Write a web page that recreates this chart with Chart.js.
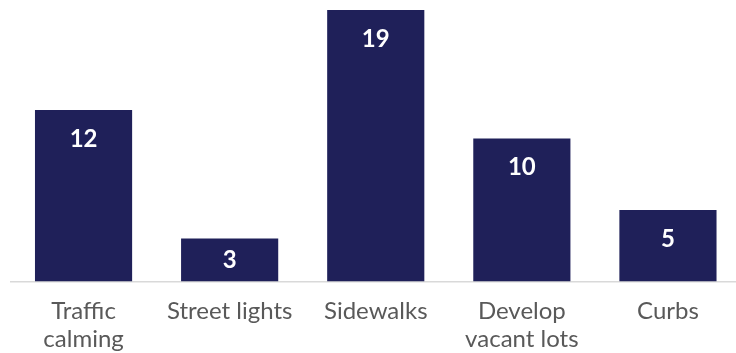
<!DOCTYPE html>
<html>
<head>
<meta charset="utf-8">
<script src="https://cdn.jsdelivr.net/npm/chart.js@4/dist/chart.umd.min.js"></script>
<style>
    html, body { margin: 0; padding: 0; background: #fff; overflow: hidden; }
    #wrap { position: relative; width: 741px; height: 369px; }
</style>
</head>
<body>
<div id="wrap"><canvas id="needs-chart"></canvas></div>
<script>
// categories and counts
const categories = [["Traffic", "calming"], "Street lights", "Sidewalks", ["Develop", "vacant lots"], "Curbs"];
const counts = [12, 3, 19, 10, 5];

const barColor = "#1f2059";

// draws the count inside the top of each bar (centred when the bar is short)
const barValueLabels = {
    id: "barValueLabels",
    afterDatasetsDraw(chart) {
        const ctx = chart.ctx;
        const meta = chart.getDatasetMeta(0);
        ctx.save();
        ctx.fillStyle = "#ffffff";
        ctx.font = "bold 24px Lato";
        ctx.textAlign = "center";
        ctx.textBaseline = "middle";
        meta.data.forEach((bar, i) => {
            const y = Math.min(bar.y + 29, (bar.y + bar.base) / 2);
            ctx.fillText(String(counts[i]), bar.x, y);
        });
        ctx.restore();
    }
};

document.addEventListener("DOMContentLoaded", () => {
    const ctx = document.getElementById("needs-chart").getContext("2d");

    new Chart(ctx, {
        type: "bar",
        data: {
            labels: categories,
            datasets: [{
                data: counts,
                backgroundColor: barColor,
                borderWidth: 0,
                categoryPercentage: 1,
                barPercentage: 0.665
            }]
        },
        options: {
            responsive: true,
            maintainAspectRatio: false,
            animation: false,
            layout: { padding: { left: 10.5, right: 0, top: 10, bottom: 0 } },
            plugins: {
                legend: { display: false },
                tooltip: { enabled: false }
            },
            scales: {
                y: {
                    display: false,
                    min: 0,
                    max: 19
                },
                x: {
                    grid: { display: false, drawTicks: false },
                    border: { display: true, color: "#d9d9d9", width: 1.5 },
                    ticks: {
                        color: "#595959",
                        padding: 15,
                        maxRotation: 0,
                        autoSkip: false,
                        font: { family: "Lato", size: 24, lineHeight: 1.2 }
                    }
                }
            }
        },
        plugins: [barValueLabels]
    });
});
</script>
</body>
</html>
